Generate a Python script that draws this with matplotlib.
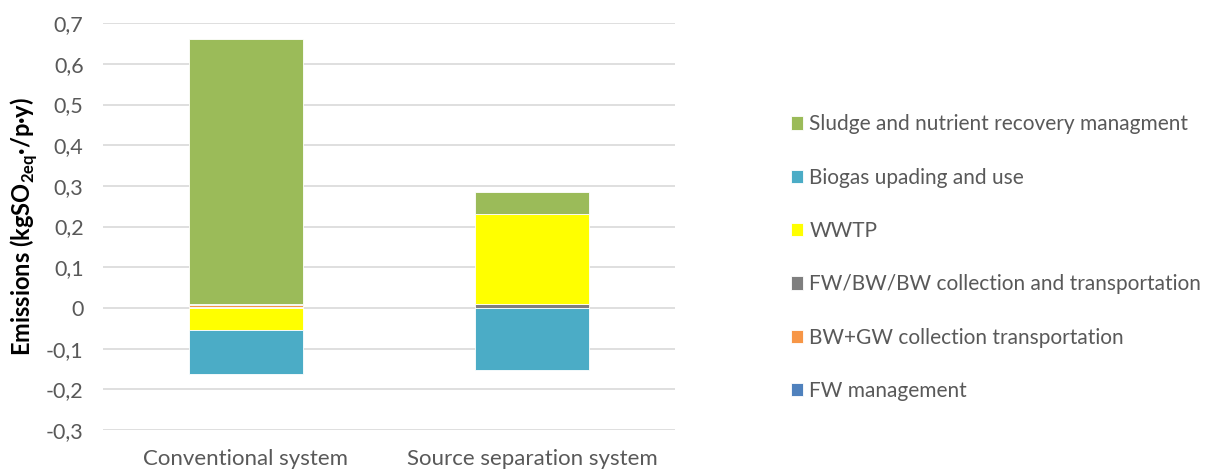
import matplotlib
matplotlib.use("Agg")
import matplotlib.pyplot as plt
import numpy as np

plt.rcParams['font.family'] = ['Lato', 'DejaVu Sans']
plt.rcParams['mathtext.fontset'] = 'custom'
plt.rcParams['mathtext.rm'] = 'Lato'
plt.rcParams['mathtext.bf'] = 'Lato:bold'

categories = ["Conventional system", "Source separation system"]
series_names = [
    "FW management",
    "BW+GW collection transportation",
    "FW/BW/BW collection and transportation",
    "WWTP",
    "Biogas upading and use",
    "Sludge and nutrient recovery managment",
]
fw_management = [0.002, 0.0]
bwgw_transport = [0.006, 0.0]
fwbw_transport = [0.001, 0.010]
wwtp = [-0.054, 0.221]
biogas = [-0.109, -0.153]
sludge = [0.652, 0.055]
colors = ["#4F81BD", "#F79646", "#7F7F7F", "#FFFF00", "#4BACC6", "#9BBB59"]

yticks = np.round(np.arange(-0.3, 0.71, 0.1), 1)
ytick_labels = [("0" if abs(v) < 1e-9 else f"{v:.1f}".replace(".", ",")) for v in yticks]

text_col = "#595959"
fig = plt.figure(figsize=(12.06, 4.72), dpi=100)
ax = fig.add_axes([0.0854, 0.089, 0.4743, 0.862])

x = np.arange(len(categories))
data = [fw_management, bwgw_transport, fwbw_transport, wwtp, biogas, sludge]
pos_base = np.zeros(len(categories))
neg_base = np.zeros(len(categories))
handles = []
for vals, name, col in zip(data, series_names, colors):
    vals = np.array(vals)
    bottoms = np.where(vals >= 0, pos_base, neg_base)
    b = ax.bar(x, vals, width=0.4, bottom=bottoms, color=col, edgecolor="white",
               linewidth=0.6, label=name, zorder=3)
    handles.append(b)
    pos_base += np.where(vals >= 0, vals, 0)
    neg_base += np.where(vals < 0, vals, 0)

ax.set_xlim(-0.5, 1.5)
ax.set_ylim(-0.3, 0.7)
ax.set_yticks(yticks)
ax.set_yticklabels(ytick_labels)
ax.set_xticks(x)
ax.set_xticklabels(categories)
ax.grid(axis="y", color="#D9D9D9", linewidth=1.2, zorder=0)
for s in ax.spines.values():
    s.set_visible(False)
ax.tick_params(axis="y", length=0, labelsize=15.5, colors=text_col, pad=14)
ax.tick_params(axis="x", length=0, labelsize=16, colors=text_col, pad=14)
ax.set_ylabel("Emissions (kgSO$_{\\mathbf{2eq}}$·/p·y)", fontsize=17, fontweight="bold",
              color="black", labelpad=4)

leg = fig.legend(handles[::-1], series_names[::-1], loc="upper left",
                 bbox_to_anchor=(0.647, 0.78), frameon=False, fontsize=15,
                 labelcolor=text_col, handlelength=0.6, handleheight=0.6,
                 handletextpad=0.3, labelspacing=1.6, borderpad=0)

fig.savefig("out.png", dpi=100)
